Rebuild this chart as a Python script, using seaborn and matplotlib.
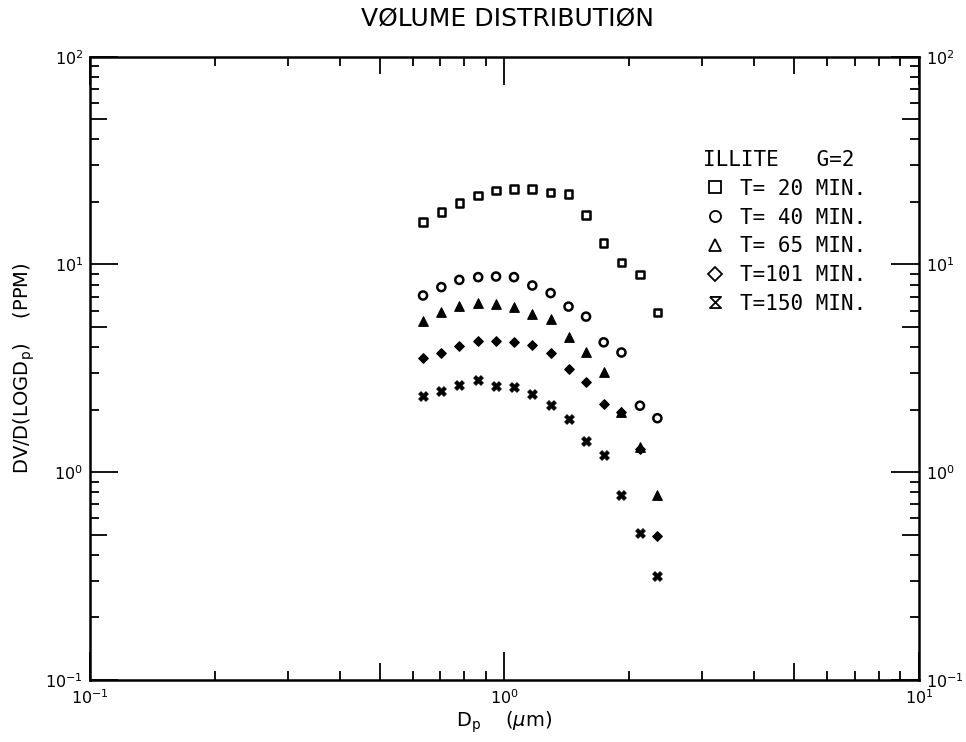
import numpy as np
import pandas as pd
import matplotlib
matplotlib.use('Agg')
import matplotlib.pyplot as plt
import seaborn as sns
from matplotlib.path import Path
from matplotlib.lines import Line2D
from matplotlib.ticker import LogLocator, NullFormatter

# ---- data ----
dp = [0.636, 0.704, 0.778, 0.864, 0.954, 1.054, 1.167, 1.292, 1.427, 1.573, 1.735, 1.915, 2.122, 2.338]
t20 = [15.99, 17.86, 19.74, 21.47, 22.70, 23.05, 23.05, 22.20, 21.88, 17.34, 12.67, 10.21, 8.94, 5.87]
t40 = [7.09, 7.78, 8.43, 8.69, 8.75, 8.69, 7.92, 7.28, 6.27, 5.61, 4.22, 3.77, 2.09, 1.82]
t65 = [5.37, 5.88, 6.32, 6.56, 6.46, 6.22, 5.77, 5.47, 4.48, 3.80, 3.04, 1.95, 1.33, 0.777]
t101 = [3.54, 3.75, 4.07, 4.29, 4.30, 4.23, 4.08, 3.74, 3.13, 2.71, 2.13, 1.95, 1.29, 0.495]
t150 = [2.33, 2.46, 2.64, 2.78, 2.60, 2.57, 2.37, 2.11, 1.80, 1.42, 1.21, 0.777, 0.512, 0.317]
series_labels = ["T= 20 MIN.", "T= 40 MIN.", "T= 65 MIN.", "T=101 MIN.", "T=150 MIN."]
legend_title = "ILLITE   G=2"

sns.set_theme(style="ticks")
plt.rcParams['font.family'] = ['DejaVu Sans']
plt.rcParams['text.color'] = 'black'
plt.rcParams['axes.labelcolor'] = 'black'

hourglass = Path([(-1, 1), (1, 1), (-1, -1), (1, -1), (-1, 1)],
                 [Path.MOVETO, Path.LINETO, Path.LINETO, Path.LINETO, Path.LINETO])

fig = plt.figure(figsize=(9.66, 7.42), dpi=100)
ax = fig.add_axes([90/966, 62/742, 829/966, 623.3/742])

values = [t20, t40, t65, t101, t150]
styles = [
    dict(marker='s', s=30, facecolor='none', edgecolor='black', linewidth=1.8),
    dict(marker='o', s=34, facecolor='none', edgecolor='black', linewidth=1.8),
    dict(marker='^', s=48, facecolor='black', edgecolor='black', linewidth=0.8),
    dict(marker='D', s=24, facecolor='black', edgecolor='black', linewidth=0.8),
    dict(marker='X', s=50, facecolor='black', edgecolor='black', linewidth=0.5),
]
for lab, vals, st in zip(series_labels, values, styles):
    df = pd.DataFrame({'Dp': dp, 'V': vals})
    sns.scatterplot(data=df, x='Dp', y='V', ax=ax, legend=False, zorder=3, **st)

ax.set_xscale('log')
ax.set_yscale('log')
ax.set_xlim(0.1, 10)
ax.set_ylim(0.1, 100)

for axis in (ax.xaxis, ax.yaxis):
    axis.set_major_locator(LogLocator(base=10))
    axis.set_minor_locator(LogLocator(base=10, subs=np.arange(2, 10)))
    axis.set_minor_formatter(NullFormatter())

ax.tick_params(which='both', direction='in', top=True, right=True, bottom=True, left=True,
               labelright=True, labeltop=False, labelleft=True, labelbottom=True,
               colors='black', width=1.3)
ax.tick_params(which='major', length=20, labelsize=11.5, pad=6)
ax.tick_params(axis='y', which='major', pad=5)
ax.tick_params(which='minor', length=6.5)
for sp in ax.spines.values():
    sp.set_visible(True)
    sp.set_color('black')
    sp.set_linewidth(1.8)

fig.canvas.draw()
# half-decade ticks (5, 50, 0.5) drawn longer, as on the plotter axes
for axis in (ax.xaxis, ax.yaxis):
    for tk in axis.get_minor_ticks():
        loc = tk.get_loc()
        m = loc / 10 ** np.floor(np.log10(loc) + 1e-9)
        if abs(m - 5) < 1e-6:
            tk.tick1line.set_markersize(12)
            tk.tick2line.set_markersize(12)

ax.set_xlabel(r'D$_\mathregular{p}$    ($\mu$m)', fontsize=14, labelpad=2)
ax.set_ylabel(r'DV/D(LOGD$_\mathregular{p}$)    (PPM)', fontsize=14, labelpad=6)
fig.text(507/966, 1 - 19/742, 'VØLUME DISTRIBUTIØN', ha='center', va='center', fontsize=18)

handles = [
    Line2D([], [], ls='none', marker='s', mfc='none', mec='black', ms=8, mew=1.3),
    Line2D([], [], ls='none', marker='o', mfc='none', mec='black', ms=8, mew=1.3),
    Line2D([], [], ls='none', marker='^', mfc='none', mec='black', ms=8, mew=1.3),
    Line2D([], [], ls='none', marker='D', mfc='none', mec='black', ms=7, mew=1.3),
    Line2D([], [], ls='none', marker=hourglass, mfc='none', mec='black', ms=8, mew=1.3),
]
leg = ax.legend(handles, series_labels, title=legend_title, loc='upper left',
                bbox_to_anchor=((703 - 90) / 829, (680 - 150) / 623.3),
                frameon=False, prop={'family': 'DejaVu Sans Mono', 'size': 15},
                title_fontproperties={'family': 'DejaVu Sans Mono', 'size': 15},
                handlelength=1.2, handletextpad=0.6, labelspacing=0.42,
                borderaxespad=0, borderpad=0)
leg._legend_box.align = 'left'

fig.savefig('out.png', dpi=100)
